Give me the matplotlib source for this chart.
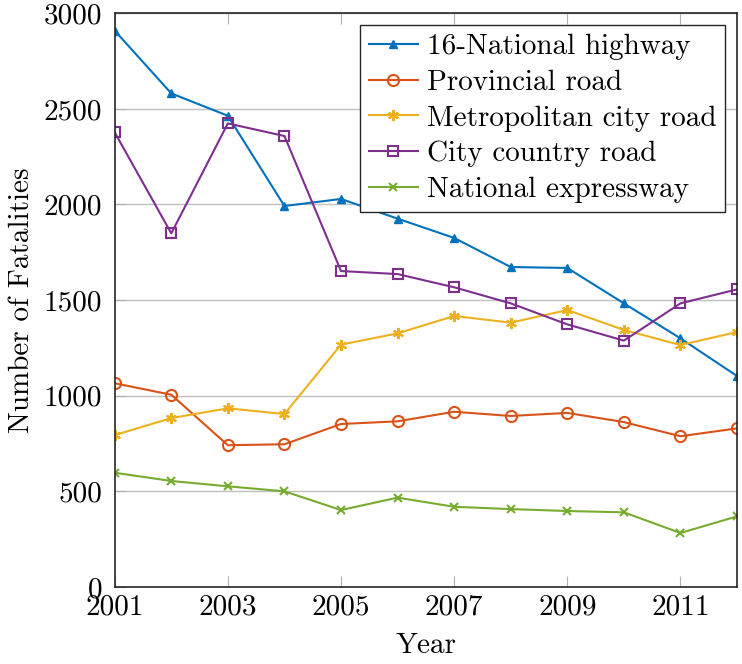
import matplotlib
matplotlib.use('Agg')
from matplotlib import pyplot as plt

plt.rcParams['font.family'] = 'cmr10'
plt.rcParams['mathtext.fontset'] = 'cm'
plt.rcParams['axes.formatter.use_mathtext'] = True

years = [2001, 2002, 2003, 2004, 2005, 2006, 2007, 2008, 2009, 2010, 2011, 2012]
national_highway = [2909, 2581, 2464, 1992, 2029, 1926, 1825, 1673, 1668, 1483, 1300, 1103]
provincial_road = [1065, 1005, 741, 746, 852, 866, 916, 894, 910, 862, 788, 829]
metropolitan_road = [794, 883, 934, 904, 1267, 1326, 1417, 1382, 1448, 1344, 1265, 1333]
city_country_road = [2377, 1849, 2424, 2358, 1652, 1636, 1567, 1483, 1373, 1288, 1483, 1556]
national_expressway = [597, 554, 526, 500, 402, 467, 419, 407, 397, 390, 282, 369]

labels = ['16-National highway', 'Provincial road', 'Metropolitan city road',
          'City country road', 'National expressway']
x_ticks = [2001, 2003, 2005, 2007, 2009, 2011]
y_ticks = [0, 500, 1000, 1500, 2000, 2500, 3000]

fig = plt.figure(figsize=(7.42, 6.64), dpi=100)
ax = fig.add_axes([0.1546, 0.1161, 0.8387, 0.8639])

ax.plot(years, national_highway, color='#0072BD', marker='^', markersize=6, linewidth=1.5,
        label=labels[0])
ax.plot(years, provincial_road, color='#D95319', marker='o', markersize=8, fillstyle='none',
        markeredgewidth=1.5, linewidth=1.5, label=labels[1])
ax.plot(years, metropolitan_road, color='#EDB120', marker=(6, 2, 0), markersize=8,
        markeredgewidth=1.5, linewidth=1.5, label=labels[2])
ax.plot(years, city_country_road, color='#7E2F8E', marker='s', markersize=6.5, fillstyle='none',
        markeredgewidth=1.5, linewidth=1.5, label=labels[3])
ax.plot(years, national_expressway, color='#77AC30', marker='x', markersize=6,
        markeredgewidth=1.5, linewidth=1.5, label=labels[4])

ax.set_xlim(2001, 2012)
ax.set_ylim(0, 3000)
ax.set_xticks(x_ticks)
ax.set_yticks(y_ticks)
ax.set_xticklabels([str(v) for v in x_ticks])
ax.set_yticklabels([str(v) for v in y_ticks])
ax.yaxis.grid(True, color='#c0c0c0', linewidth=1)
ax.set_axisbelow(True)
ax.tick_params(direction='in', top=True, right=False, color='#b0b0b0', length=8,
               labelsize=21)
ax.tick_params(axis='x', pad=5)
ax.tick_params(axis='y', pad=9)
for side in ax.spines.values():
    side.set_color('#262626')
    side.set_linewidth(1.2)

ax.set_xlabel('Year', fontsize=21, labelpad=9)
ax.set_ylabel('Number of Fatalities', fontsize=21, labelpad=6)

leg = ax.legend(loc='upper right', fontsize=21, fancybox=False, framealpha=1,
                edgecolor='#262626', borderpad=0.3, labelspacing=0.32,
                handlelength=1.7, handletextpad=0.3, borderaxespad=0.4)
leg.get_frame().set_linewidth(1.0)

plt.savefig('out.png', dpi=100)
plt.close()
